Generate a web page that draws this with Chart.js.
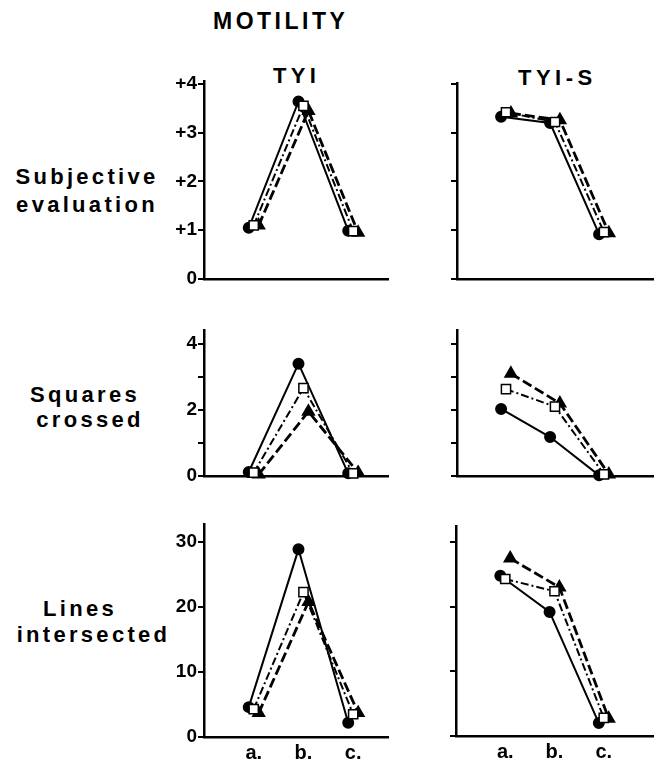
<!DOCTYPE html>
<html>
<head>
<meta charset="utf-8">
<script src="https://cdn.jsdelivr.net/npm/chart.js@4.4.0/dist/chart.umd.min.js"></script>
<style>
body { margin: 0; background: #fff; }
#page { position: relative; width: 656px; height: 763px; overflow: hidden;
        font-family: "Liberation Sans", Arial, sans-serif; font-weight: bold; color: #000; }
.txt { position: absolute; white-space: nowrap; line-height: 1; }
.row { width: 200px; text-align: center; font-size: 22px; letter-spacing: 3.3px; }
canvas { position: absolute; }
</style>
</head>
<body>
<div id="page">
  <div class="txt" style="left:213px;top:9.5px;font-size:23px;letter-spacing:3.5px">MOTILITY</div>
  <div class="txt" id="col0" style="left:273px;top:65.4px;font-size:22px;letter-spacing:4.3px"></div>
  <div class="txt" id="col1" style="left:518px;top:67.4px;font-size:22px;letter-spacing:4.5px"></div>

  <div class="txt row" id="r0a" style="left:-13px;top:166.4px"></div>
  <div class="txt row" id="r0b" style="left:-13px;top:194.1px"></div>
  <div class="txt row" id="r1a" style="left:-15px;top:384.4px"></div>
  <div class="txt row" id="r1b" style="left:-10px;top:409.4px"></div>
  <div class="txt row" id="r2a" style="left:-20px;top:598.4px"></div>
  <div class="txt row" id="r2b" style="left:-6.5px;top:624.4px"></div>

  <canvas id="c00"></canvas>
  <canvas id="c01"></canvas>
  <canvas id="c10"></canvas>
  <canvas id="c11"></canvas>
  <canvas id="c20"></canvas>
  <canvas id="c21"></canvas>
</div>
<script>
// ---------- data ----------
var categories = ['a.', 'b.', 'c.'];
var columnTitles = ['TYI', 'TYI-S'];
var rowTitles = [['Subjective', 'evaluation'], ['Squares', 'crossed'], ['Lines', 'intersected']];

// Subjective evaluation
var subjTyiSolid      = [1.05, 3.64, 0.99];
var subjTyiDashDot    = [1.1, 3.55, 0.98];
var subjTyiDashed     = [1.1, 3.45, 0.95];
var subjTyisSolid     = [3.33, 3.2, 0.92];
var subjTyisDashDot   = [3.42, 3.22, 0.96];
var subjTyisDashed    = [3.4, 3.26, 0.94];

// Squares crossed
var squaresTyiSolid    = [0.12, 3.4, 0.08];
var squaresTyiDashDot  = [0.1, 2.66, 0.08];
var squaresTyiDashed   = [0.05, 1.95, 0.1];
var squaresTyisSolid   = [2.03, 1.18, 0.02];
var squaresTyisDashDot = [2.63, 2.1, 0.05];
var squaresTyisDashed  = [3.1, 2.2, 0.05];

// Lines intersected
var linesTyiSolid    = [4.6, 28.9, 2.2];
var linesTyiDashDot  = [4.3, 22.3, 3.5];
var linesTyiDashed   = [3.7, 20.8, 3.7];
var linesTyisSolid   = [24.8, 19.2, 2.0];
var linesTyisDashDot = [24.3, 22.4, 2.8];
var linesTyisDashed  = [27.5, 23.0, 2.7];

// y ticks
var subjTicks = [0, 1, 2, 3, 4];
var subjTickLabels = ['0', '+1', '+2', '+3', '+4'];
var squaresTicks = [0, 1, 2, 3, 4];
var squaresTickLabels = ['0', '', '2', '', '4'];
var linesTicks = [0, 10, 20, 30];
var linesTickLabels = ['0', '10', '20', '30'];

// ---------- layout ----------
var Y_AXIS_W = 54, PAD_TOP = 20, PAD_RIGHT = 10, X_AXIS_H = 30;
var seriesShift = { solid: -0.1, dashDot: 0, dashed: 0.1 };

document.getElementById('col0').textContent = columnTitles[0];
document.getElementById('col1').textContent = columnTitles[1];
document.getElementById('r0a').textContent = rowTitles[0][0];
document.getElementById('r0b').textContent = rowTitles[0][1];
document.getElementById('r1a').textContent = rowTitles[1][0];
document.getElementById('r1b').textContent = rowTitles[1][1];
document.getElementById('r2a').textContent = rowTitles[2][0];
document.getElementById('r2b').textContent = rowTitles[2][1];

function points(vals, shift) {
    return vals.map(function(v, i) { return { x: i + 1 + shift, y: v }; });
}

function makePanel(id, box, xMax, yMax, ticks, tickLabels, solid, dashDot, dashed, showX, showY) {
    var cv = document.getElementById(id);
    var w = box.right - box.left + Y_AXIS_W + PAD_RIGHT;
    var h = box.bottom - box.top + PAD_TOP + X_AXIS_H;
    cv.width = w; cv.height = h;
    cv.style.left = (box.left - Y_AXIS_W) + 'px';
    cv.style.top = (box.top - PAD_TOP) + 'px';
    cv.style.width = w + 'px'; cv.style.height = h + 'px';

    var yFont = { family: '"Liberation Sans", Arial, sans-serif', weight: 'bold', size: 19 };
    var xFont = { family: '"Liberation Sans", Arial, sans-serif', weight: 'bold', size: 20 };

    return new Chart(cv, {
        type: 'line',
        data: {
            datasets: [
                {
                    label: 'solid',
                    data: points(solid, seriesShift.solid),
                    borderColor: '#000', borderWidth: 2,
                    pointStyle: 'circle', pointRadius: 5,
                    pointBackgroundColor: '#000', pointBorderColor: '#000',
                    order: 2, clip: false
                },
                {
                    label: 'dashDot',
                    data: points(dashDot, seriesShift.dashDot),
                    borderColor: '#000', borderWidth: 2, borderDash: [8, 3, 2, 3],
                    pointStyle: 'rect', pointRadius: 6.5,
                    pointBackgroundColor: '#fff', pointBorderColor: '#000', pointBorderWidth: 1.5,
                    order: 0, clip: false
                },
                {
                    label: 'dashed',
                    data: points(dashed, seriesShift.dashed),
                    borderColor: '#000', borderWidth: 2.8, borderDash: [10, 4],
                    pointStyle: 'triangle', pointRadius: 5.5,
                    pointBackgroundColor: '#000', pointBorderColor: '#000',
                    order: 1, clip: false
                }
            ]
        },
        options: {
            responsive: false,
            animation: false,
            layout: { padding: { top: PAD_TOP, right: PAD_RIGHT, left: 0, bottom: 0 } },
            plugins: { legend: { display: false }, tooltip: { enabled: false } },
            scales: {
                x: {
                    type: 'linear', min: 0, max: xMax,
                    afterBuildTicks: function(s) { s.ticks = [1, 2, 3].map(function(v) { return { value: v }; }); },
                    afterFit: function(s) { s.height = X_AXIS_H; },
                    grid: { display: false, drawTicks: false },
                    border: { display: true, color: '#000', width: 2.5 },
                    ticks: {
                        display: showX, autoSkip: false, maxRotation: 0, padding: 4,
                        color: '#000', font: xFont,
                        callback: function(v, i) { return categories[i]; }
                    }
                },
                y: {
                    min: 0, max: yMax,
                    afterBuildTicks: function(s) { s.ticks = ticks.map(function(v) { return { value: v }; }); },
                    afterFit: function(s) { s.width = Y_AXIS_W; },
                    grid: { display: true, drawOnChartArea: false, drawTicks: true, tickLength: 6, color: '#000', lineWidth: 2 },
                    border: { display: true, color: '#000', width: 2.5 },
                    ticks: {
                        autoSkip: false, padding: 1, color: '#000', font: yFont,
                        callback: function(v, i) { return showY ? tickLabels[i] : ''; }
                    }
                }
            }
        }
    });
}

makePanel('c00', { left: 204, right: 388, top: 81, bottom: 279 }, 3.7, 4.06, subjTicks, subjTickLabels,
          subjTyiSolid, subjTyiDashDot, subjTyiDashed, false, true);
makePanel('c01', { left: 457, right: 653, top: 83, bottom: 279 }, 4, 4.02, subjTicks, subjTickLabels,
          subjTyisSolid, subjTyisDashDot, subjTyisDashed, false, false);
makePanel('c10', { left: 204, right: 388, top: 330, bottom: 476 }, 3.7, 4.42, squaresTicks, squaresTickLabels,
          squaresTyiSolid, squaresTyiDashDot, squaresTyiDashed, false, true);
makePanel('c11', { left: 457, right: 653, top: 330, bottom: 476 }, 4, 4.42, squaresTicks, squaresTickLabels,
          squaresTyisSolid, squaresTyisDashDot, squaresTyisDashed, false, false);
makePanel('c20', { left: 204, right: 388, top: 524, bottom: 737 }, 3.7, 32.8, linesTicks, linesTickLabels,
          linesTyiSolid, linesTyiDashDot, linesTyiDashed, true, true);
makePanel('c21', { left: 456, right: 653, top: 526, bottom: 736 }, 4, 32.5, linesTicks, linesTickLabels,
          linesTyisSolid, linesTyisDashDot, linesTyisDashed, true, false);
</script>
</body>
</html>
